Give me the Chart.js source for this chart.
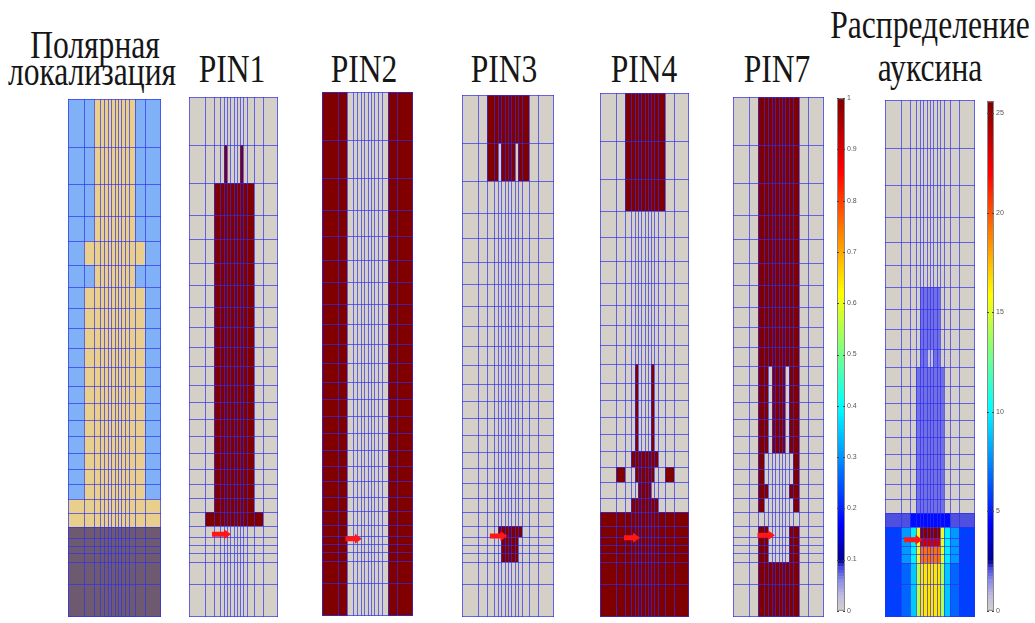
<!DOCTYPE html>
<html>
<head>
<meta charset="utf-8">
<script src="https://cdn.jsdelivr.net/npm/chart.js@4/dist/chart.umd.min.js"></script>
<style>
    html, body { margin: 0; padding: 0; background: #fff; }
    #stage { position: relative; width: 1035px; height: 623px; overflow: hidden; }
    #stage canvas { position: absolute; }
    .title {
        position: absolute;
        font-family: 'Liberation Serif', 'Times New Roman', serif;
        font-size: 39px;
        line-height: 39px;
        color: #161616;
        white-space: nowrap;
        transform: translateX(-50%) scaleX(0.81);
    }
</style>
</head>
<body>
<div id="stage"></div>
<script>
// cell grid of the root model: column widths and row heights (model units)
const cellWidths = [15.5, 9, 6, 4, 3.4, 3.3, 3.3, 3.3, 3.3, 3.4, 4, 6, 9, 15.5];
const cellHeights = [48, 38, 32, 25, 24, 22, 22, 20, 20, 19, 19, 17, 17, 17, 17, 16, 15, 15, 14, 14, 11, 8, 8, 9, 22, 33];

// regions as [firstRow, lastRow, firstCol, lastCol, value]
// polar localisation: 0 = outer files, 1 = inner files, 2 = root cap
const polarCells = [
    [0, 3, 2, 11, 1], [4, 4, 1, 12, 1], [5, 5, 2, 11, 1], [6, 17, 1, 12, 1],
    [18, 19, 0, 13, 1], [20, 25, 0, 13, 2]
];
// PIN expression, 0..1
const pin1Cells = [[1, 1, 4, 4, 1], [1, 1, 9, 9, 1], [2, 18, 2, 11, 1], [19, 19, 1, 12, 1]];
const pin2Cells = [[0, 25, 0, 1, 1], [0, 25, 12, 13, 1]];
const pin3Cells = [
    [0, 0, 2, 11, 1], [1, 1, 2, 3, 1], [1, 1, 5, 8, 1], [1, 1, 10, 11, 1],
    [20, 20, 4, 10, 1], [21, 23, 5, 9, 1]
];
const pin4Cells = [
    [0, 2, 2, 11, 1], [10, 14, 4, 4, 1], [10, 14, 9, 9, 1], [15, 15, 3, 10, 1],
    [16, 16, 1, 1, 1], [16, 16, 4, 9, 1], [16, 16, 12, 12, 1], [17, 17, 5, 8, 1],
    [18, 18, 3, 10, 1], [19, 25, 0, 13, 1]
];
const pin7Cells = [
    [0, 25, 2, 11, 1], [10, 14, 4, 4, 0], [10, 14, 9, 9, 0], [15, 16, 3, 10, 0],
    [17, 17, 4, 9, 0], [18, 18, 3, 10, 0], [19, 19, 2, 11, 0], [20, 23, 4, 9, 0]
];
// auxin concentration, 0..25.6
const auxinCells = [
    [6, 8, 4, 9, 1.8], [9, 9, 4, 5, 1.8], [9, 9, 6, 7, 0.7], [9, 9, 8, 9, 1.8], [10, 18, 3, 10, 1.8],
    [19, 19, 0, 1, 2.1], [19, 19, 12, 13, 2.1], [19, 19, 2, 11, 4.6],
    [20, 23, 0, 0, 5.8], [20, 23, 13, 13, 5.8], [20, 23, 1, 1, 7.9], [20, 23, 12, 12, 7.9],
    [20, 23, 2, 2, 9.9], [20, 23, 11, 11, 9.9], [20, 23, 3, 3, 15.4], [20, 23, 10, 10, 15.4],
    [20, 20, 4, 9, 25.5], [21, 21, 4, 9, 23.4], [22, 23, 4, 9, 19.3],
    [24, 25, 0, 0, 5.8], [24, 25, 13, 13, 5.8], [24, 25, 1, 1, 6.7], [24, 25, 12, 12, 6.7],
    [24, 25, 2, 2, 9.0], [24, 25, 11, 11, 9.0], [24, 25, 3, 3, 14.2], [24, 25, 10, 10, 14.2],
    [24, 25, 4, 9, 16.5]
];

// red arrows: [tailX, tipX, depth] in model units
const pin1Arrow = [23, 42, 439];
const pin2Arrow = [23, 39, 445];
const pin3Arrow = [27, 44, 441];
const pin4Arrow = [24, 40, 443];
const pin7Arrow = [24, 41, 440];
const auxinArrow = [19, 37, 444];

const pinTicks = [0, 0.1, 0.2, 0.3, 0.4, 0.5, 0.6, 0.7, 0.8, 0.9, 1];
const auxinTicks = [0, 5, 10, 15, 20, 25];
const pinMax = 1;
const auxinMax = 25.6;

const titles = [
    ['Полярная', 95, 58], ['локализация', 92, 85],
    ['PIN1', 232, 82], ['PIN2', 364, 82], ['PIN3', 504, 82], ['PIN4', 644, 82], ['PIN7', 777, 82],
    ['Распределение', 930, 38], ['ауксина', 930, 81]
];

const polarColors = ['#80b0f5', '#e8d08c', '#6e5a70'];
// colormap stops: grey -> lavender -> jet
const heatStops = [
    [0, [212, 208, 200]], [0.03, [192, 188, 224]], [0.06, [140, 140, 232]], [0.085, [72, 72, 222]],
    [0.1, [0, 0, 143]], [0.17, [0, 0, 255]], [0.4, [0, 255, 255]], [0.51, [128, 255, 128]],
    [0.62, [255, 255, 0]], [0.86, [255, 0, 0]], [1, [128, 0, 0]]
];
const stage = document.getElementById('stage');

function edges(sizes) {
    const e = [0];
    sizes.forEach(s => e.push(e[e.length - 1] + s));
    return e;
}
const colEdges = edges(cellWidths);
const rowEdges = edges(cellHeights);

function heat(t) {
    t = Math.max(0, Math.min(1, t));
    let i = 0;
    while (i < heatStops.length - 2 && t > heatStops[i + 1][0]) i++;
    const [t0, a] = heatStops[i], [t1, b] = heatStops[i + 1];
    const f = Math.max(0, Math.min(1, (t - t0) / (t1 - t0)));
    const rgb = a.map((v, k) => Math.round(v + (b[k] - v) * f));
    return `rgb(${rgb[0]}, ${rgb[1]}, ${rgb[2]})`;
}

function addCanvas(left, top, w, h) {
    const c = document.createElement('canvas');
    c.width = w;
    c.height = h;
    c.style.left = left + 'px';
    c.style.top = top + 'px';
    c.style.width = w + 'px';
    c.style.height = h + 'px';
    stage.appendChild(c);
    return c;
}

function rootPanel(box, cells, base, paint, arrow) {
    const [left, top, w, h] = box;
    const canvas = addCanvas(left, top, w, h);

    const cellLayer = {
        id: 'cellLayer',
        beforeDatasetsDraw(chart) {
            const { ctx, chartArea: a, scales: { x, y } } = chart;
            const value = cellHeights.map(() => cellWidths.map(() => base));
            cells.forEach(([r0, r1, c0, c1, v]) => {
                for (let r = r0; r <= r1; r++) {
                    for (let c = c0; c <= c1; c++) value[r][c] = v;
                }
            });
            const px = colEdges.map(e => Math.round(x.getPixelForValue(e)));
            const py = rowEdges.map(e => Math.round(y.getPixelForValue(e)));

            ctx.save();
            value.forEach((row, r) => row.forEach((v, c) => {
                ctx.fillStyle = paint(v);
                ctx.fillRect(px[c], py[r], px[c + 1] - px[c], py[r + 1] - py[r]);
            }));

            // cell walls
            ctx.strokeStyle = 'rgba(45, 45, 240, 0.68)';
            ctx.lineWidth = 1;
            ctx.beginPath();
            px.forEach(p => {
                const q = Math.min(Math.max(p, a.left), a.right - 1) + 0.5;
                ctx.moveTo(q, a.top);
                ctx.lineTo(q, a.bottom);
            });
            py.forEach(p => {
                const q = Math.min(Math.max(p, a.top), a.bottom - 1) + 0.5;
                ctx.moveTo(a.left, q);
                ctx.lineTo(a.right, q);
            });
            ctx.stroke();

            if (arrow) {
                const xt = x.getPixelForValue(arrow[0]);
                const xh = x.getPixelForValue(arrow[1]);
                const ay = y.getPixelForValue(arrow[2]);
                ctx.fillStyle = '#ff1616';
                ctx.beginPath();
                ctx.moveTo(xt, ay - 2.5);
                ctx.lineTo(xh - 7, ay - 2.5);
                ctx.lineTo(xh - 7, ay - 5);
                ctx.lineTo(xh, ay);
                ctx.lineTo(xh - 7, ay + 5);
                ctx.lineTo(xh - 7, ay + 2.5);
                ctx.lineTo(xt, ay + 2.5);
                ctx.closePath();
                ctx.fill();
            }
            ctx.restore();
        }
    };

    return new Chart(canvas, {
        type: 'scatter',
        data: { datasets: [] },
        options: {
            responsive: false,
            animation: false,
            devicePixelRatio: 1,
            layout: { padding: 0 },
            plugins: { legend: { display: false }, tooltip: { enabled: false } },
            scales: {
                x: { type: 'linear', min: 0, max: colEdges[colEdges.length - 1], display: false },
                y: { type: 'linear', min: 0, max: rowEdges[rowEdges.length - 1], reverse: true, display: false }
            }
        },
        plugins: [cellLayer]
    });
}

function colorBar(box, max, ticks) {
    const [left, top, w, h] = box;
    const canvas = addCanvas(left, top - 5, w + 24, h + 10);

    const barLayer = {
        id: 'barLayer',
        beforeDatasetsDraw(chart) {
            const { ctx, chartArea: a, scales: { y } } = chart;
            const steps = 160;
            ctx.save();
            for (let i = 0; i < steps; i++) {
                const v0 = max * i / steps, v1 = max * (i + 1) / steps;
                const y0 = Math.floor(y.getPixelForValue(v1));
                const y1 = Math.ceil(y.getPixelForValue(v0));
                ctx.fillStyle = heat((v0 + v1) / 2 / max);
                ctx.fillRect(a.left, y0, a.right - a.left, y1 - y0);
            }
            ctx.strokeStyle = '#8a8a8a';
            ctx.lineWidth = 1;
            ctx.strokeRect(a.left + 0.5, a.top + 0.5, a.right - a.left - 1, a.bottom - a.top - 1);
            ctx.strokeStyle = '#444';
            ctx.beginPath();
            y.ticks.forEach(t => {
                const q = Math.round(y.getPixelForValue(t.value)) + 0.5;
                ctx.moveTo(a.left, q);
                ctx.lineTo(a.left + 2, q);
                ctx.moveTo(a.right - 2, q);
                ctx.lineTo(a.right, q);
            });
            ctx.stroke();
            ctx.restore();
        }
    };

    return new Chart(canvas, {
        type: 'scatter',
        data: { datasets: [] },
        options: {
            responsive: false,
            animation: false,
            devicePixelRatio: 1,
            layout: { padding: { top: 5, bottom: 5, left: 0, right: 0 } },
            plugins: { legend: { display: false }, tooltip: { enabled: false } },
            scales: {
                x: { type: 'linear', min: 0, max: 1, display: false },
                y: {
                    type: 'linear',
                    position: 'right',
                    min: 0,
                    max: max,
                    afterBuildTicks: s => { s.ticks = ticks.map(v => ({ value: v })); },
                    afterFit: s => { s.width = 24; },
                    ticks: {
                        font: { family: 'Liberation Sans', size: 7 },
                        color: '#555',
                        padding: 2,
                        callback: v => String(v)
                    },
                    grid: { display: false, drawTicks: false },
                    border: { display: false }
                }
            }
        },
        plugins: [barLayer]
    });
}

titles.forEach(([text, cx, baseline]) => {
    const d = document.createElement('div');
    d.className = 'title';
    d.textContent = text;
    d.style.left = cx + 'px';
    d.style.top = (baseline - 32.7) + 'px';
    stage.appendChild(d);
});

const pinPaint = v => heat(v / pinMax);
const auxinPaint = v => heat(v / auxinMax);

rootPanel([68, 99, 93, 518], polarCells, 0, v => polarColors[v], null);
rootPanel([189, 97, 89, 520], pin1Cells, 0, pinPaint, pin1Arrow);
rootPanel([322, 92, 91, 524], pin2Cells, 0, pinPaint, pin2Arrow);
rootPanel([462, 95, 92, 522], pin3Cells, 0, pinPaint, pin3Arrow);
rootPanel([600, 93, 89, 524], pin4Cells, 0, pinPaint, pin4Arrow);
rootPanel([733, 97, 91, 520], pin7Cells, 0, pinPaint, pin7Arrow);
colorBar([837, 97, 8, 515], pinMax, pinTicks);
rootPanel([885, 100, 90, 517], auxinCells, 0, auxinPaint, auxinArrow);
colorBar([987, 100, 7, 512], auxinMax, auxinTicks);
</script>
</body>
</html>
